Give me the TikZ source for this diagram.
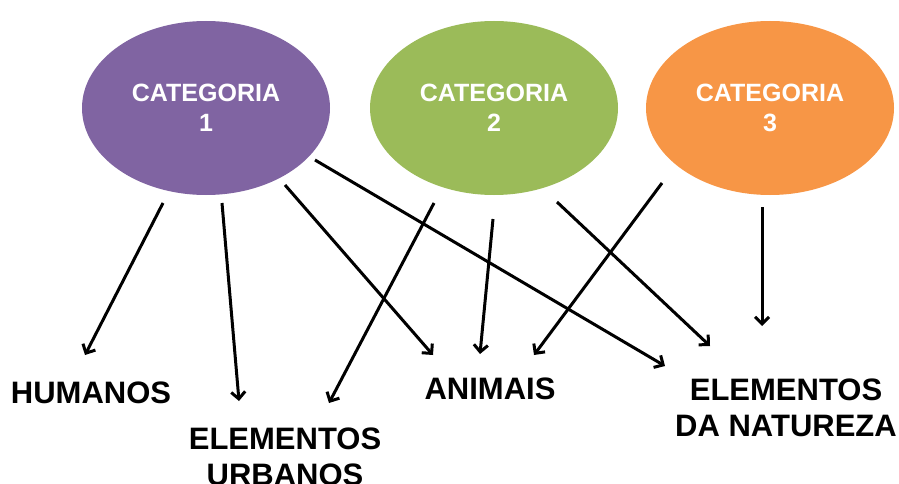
\documentclass[tikz,border=0pt]{standalone}
\usepackage{fontspec}
\setmainfont{Liberation Sans}
\usetikzlibrary{shapes.geometric,arrows.meta}
\definecolor{catpurple}{HTML}{8064A2}
\definecolor{catgreen}{HTML}{9BBB59}
\definecolor{catorange}{HTML}{F79646}
\tikzset{
  catnode/.style={ellipse, minimum width=248pt, minimum height=174pt, inner sep=0pt,
    text=white, align=center, font=\fontsize{25}{30}\selectfont\bfseries},
  labelnode/.style={align=center, inner sep=0pt, font=\fontsize{31}{36}\selectfont\bfseries},
  arr/.style={line width=3pt, -{Straight Barb[length=7pt,width=14pt,line width=3pt]}}
}
\begin{document}
\begin{tikzpicture}[x=1pt,y=-1pt]
\useasboundingbox (0,0) rectangle (899,484);
% categories
\node[catnode, fill=catpurple] (c1) at (206,108) {CATEGORIA\\1};
\node[catnode, fill=catgreen]  (c2) at (494,108) {CATEGORIA\\2};
\node[catnode, fill=catorange] (c3) at (770,108) {CATEGORIA\\3};
% labels
\node[labelnode] (hum) at (91,393) {HUMANOS};
\node[labelnode] (urb) at (285,457) {ELEMENTOS\\URBANOS};
\node[labelnode] (ani) at (490,389) {ANIMAIS};
\node[labelnode] (nat) at (786,408) {ELEMENTOS\\DA NATUREZA};
% connector end points
\coordinate (a1s) at (163,203); \coordinate (a1e) at (85,355);
\coordinate (a2s) at (222,203); \coordinate (a2e) at (239,401);
\coordinate (a3s) at (285,185); \coordinate (a3e) at (433,355);
\coordinate (a4s) at (315,160); \coordinate (a4e) at (665,366);
\coordinate (a5s) at (434,203); \coordinate (a5e) at (329,403);
\coordinate (a6s) at (493,219); \coordinate (a6e) at (480,354);
\coordinate (a7s) at (557,202); \coordinate (a7e) at (710,346);
\coordinate (a8s) at (662,183); \coordinate (a8e) at (534,355);
\coordinate (a9s) at (762,207); \coordinate (a9e) at (762,326);
% connectors
\draw[arr] (a1s) -- (a1e);
\draw[arr] (a2s) -- (a2e);
\draw[arr] (a3s) -- (a3e);
\draw[arr] (a4s) -- (a4e);
\draw[arr] (a5s) -- (a5e);
\draw[arr] (a6s) -- (a6e);
\draw[arr] (a7s) -- (a7e);
\draw[arr] (a8s) -- (a8e);
\draw[arr] (a9s) -- (a9e);
\end{tikzpicture}
\end{document}
